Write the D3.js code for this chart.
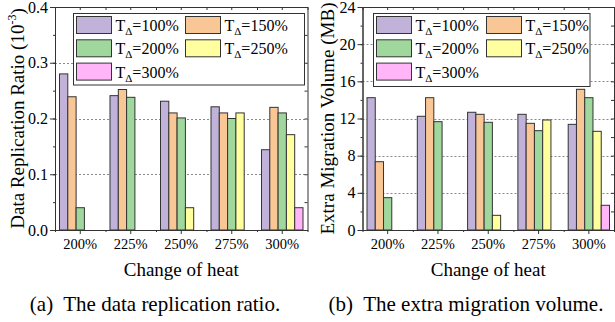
<!DOCTYPE html>
<html>
<head>
<meta charset="utf-8">
<script src="https://cdn.jsdelivr.net/npm/d3@7"></script>
<style>
    html, body { margin: 0; padding: 0; background: #fff; }
    svg, svg text { font-family: "Liberation Serif", "Times New Roman", serif; }
</style>
</head>
<body>
<svg id="chart" width="615" height="322"></svg>
<script>
// Categories (change of heat) and legend series (T_delta)
const categories = ['200%', '225%', '250%', '275%', '300%'];
const seriesNames = ['100%', '150%', '200%', '250%', '300%'];
const seriesColours = ['#c0b2d8', '#f9c796', '#9fd79d', '#ffff9f', '#ffb5f8'];

// (a) data replication ratio, 10^-3
const ratioT100 = [0.280, 0.241, 0.231, 0.221, 0.144];
const ratioT150 = [0.239, 0.252, 0.210, 0.210, 0.220];
const ratioT200 = [0.040, 0.238, 0.201, 0.200, 0.210];
const ratioT250 = [0, 0, 0.040, 0.210, 0.171];
const ratioT300 = [0, 0, 0, 0, 0.040];
const ratioTicks = [0, 0.1, 0.2, 0.3, 0.4];

// (b) extra migration volume, MB
const volumeT100 = [14.24, 12.24, 12.67, 12.45, 11.37];
const volumeT150 = [7.35, 14.24, 12.45, 11.48, 15.14];
const volumeT200 = [3.48, 11.66, 11.59, 10.69, 14.24];
const volumeT250 = [0, 0, 1.58, 11.84, 10.62];
const volumeT300 = [0, 0, 0, 0, 2.66];
const volumeTicks = [0, 4, 8, 12, 16, 20, 24];

const axisColour = '#333';
const serif = '"Liberation Serif", "Times New Roman", serif';

const svg = d3.select('#chart');

function addSubscriptLabel(sel, name) {
    sel.append('tspan').text('T');
    sel.append('tspan').attr('font-size', 11).attr('dy', 4).text('\u0394');
    sel.append('tspan').attr('dy', -4).text('=' + name);
}

function drawPanel(opts) {
    const { left, right, top, bottom, values, ticks, fmt, minorStep, yTitle, yTitleX, caption, captionX, legendBox } = opts;
    const g = svg.append('g');

    const x = d3.scaleBand().domain(categories).range([left, right]).padding(0);
    const xInner = d3.scaleBand().domain(seriesNames).range([4.5, x.bandwidth() - 4.5]).padding(0);
    const xEdge = d3.scaleLinear().domain([0, categories.length]).range([left, right]);
    const yMax = ticks[ticks.length - 1];
    const y = d3.scaleLinear().domain([0, yMax]).range([bottom, top]);
    const minorTicks = d3.range(0, yMax + minorStep / 2, minorStep);

    // dotted gridlines
    g.append('g')
        .selectAll('line')
        .data(ticks.slice(1, -1))
        .join('line')
        .attr('x1', left).attr('x2', right)
        .attr('y1', d => Math.round(y(d)) + 0.5).attr('y2', d => Math.round(y(d)) + 0.5)
        .attr('stroke', '#8a8a8a')
        .attr('stroke-width', 1)
        .attr('stroke-dasharray', '2,2');

    // bars
    const rows = categories.map((c, i) => ({ cat: c, vals: values.map((s, j) => ({ name: seriesNames[j], v: s[i], colour: seriesColours[j] })) }));
    g.append('g')
        .selectAll('g')
        .data(rows)
        .join('g')
        .attr('transform', d => `translate(${x(d.cat)},0)`)
        .selectAll('rect')
        .data(d => d.vals.filter(v => v.v > 0))
        .join('rect')
        .attr('x', d => xInner(d.name))
        .attr('width', xInner.bandwidth())
        .attr('y', d => y(d.v))
        .attr('height', d => y(0) - y(d.v))
        .attr('fill', d => d.colour)
        .attr('stroke', axisColour)
        .attr('stroke-width', 1);

    // axes
    const styleAxis = a => {
        a.attr('font-family', null);
        a.select('.domain').attr('stroke', axisColour);
        a.selectAll('.tick line').attr('stroke', axisColour);
        a.selectAll('.tick text').attr('fill', '#000').style('font-family', serif);
    };

    g.append('g')
        .attr('transform', `translate(${left},0)`)
        .call(d3.axisLeft(y).tickValues(minorTicks).tickSize(2).tickFormat('').tickSizeOuter(0))
        .call(styleAxis);
    g.append('g')
        .attr('transform', `translate(${left},0)`)
        .call(d3.axisLeft(y).tickValues(ticks).tickSize(5).tickPadding(2).tickFormat(fmt).tickSizeOuter(0))
        .call(styleAxis)
        .selectAll('.tick text').attr('font-size', 16);

    g.append('g')
        .attr('transform', `translate(${right},0)`)
        .call(d3.axisRight(y).tickValues(minorTicks).tickSize(-3).tickFormat('').tickSizeOuter(0))
        .call(styleAxis);

    g.append('g')
        .attr('transform', `translate(0,${bottom})`)
        .call(d3.axisBottom(xEdge).tickValues(d3.range(categories.length + 1)).tickSize(2).tickFormat('').tickSizeOuter(0))
        .call(styleAxis);
    g.append('g')
        .attr('transform', `translate(0,${bottom})`)
        .call(d3.axisBottom(x).tickSize(4).tickPadding(5).tickSizeOuter(0))
        .call(styleAxis)
        .selectAll('.tick text').attr('font-size', 14.5);

    g.append('g')
        .attr('transform', `translate(0,${top})`)
        .call(d3.axisTop(xEdge).tickValues(d3.range(categories.length + 1)).tickSize(-3).tickFormat('').tickSizeOuter(0))
        .call(styleAxis);
    g.append('g')
        .attr('transform', `translate(0,${top})`)
        .call(d3.axisTop(x).tickSize(-3).tickFormat('').tickSizeOuter(0))
        .call(styleAxis);

    // legend
    const lg = g.append('g').attr('transform', `translate(${legendBox.x},${legendBox.y})`);
    lg.append('rect')
        .attr('width', legendBox.w).attr('height', legendBox.h)
        .attr('fill', '#fff').attr('stroke', axisColour).attr('stroke-width', 1);
    const item = lg.selectAll('g.item')
        .data(seriesNames.map((n, i) => ({ name: n, colour: seriesColours[i], col: i % 2, row: Math.floor(i / 2) })))
        .join('g')
        .attr('class', 'item')
        .attr('transform', d => `translate(${3 + d.col * legendBox.colGap},${3 + d.row * 23.3})`);
    item.append('rect')
        .attr('width', 35).attr('height', 17)
        .attr('fill', d => d.colour).attr('stroke', axisColour).attr('stroke-width', 1);
    item.append('text')
        .attr('x', 39).attr('y', 14.5)
        .attr('font-size', 16)
        .style('font-family', serif)
        .each(function (d) { addSubscriptLabel(d3.select(this), d.name); });

    // titles
    const yt = g.append('text')
        .attr('transform', `translate(${yTitleX},${(top + bottom) / 2}) rotate(-90)`)
        .attr('text-anchor', 'middle')
        .attr('font-size', 19)
        .style('font-family', serif);
    yt.append('tspan').text(yTitle.main);
    if (yTitle.sup) {
        yt.append('tspan').attr('font-size', 12).attr('dy', -8).text(yTitle.sup);
        yt.append('tspan').attr('dy', 8).text(')');
    }

    g.append('text')
        .attr('x', (left + right) / 2).attr('y', 276)
        .attr('text-anchor', 'middle').attr('font-size', 19)
        .style('font-family', serif)
        .text('Change of heat');

    g.append('text')
        .attr('x', captionX).attr('y', 311)
        .attr('text-anchor', 'middle').attr('font-size', 21)
        .attr('xml:space', 'preserve')
        .style('font-family', serif)
        .text(caption);
}

drawPanel({
    left: 55, right: 307.5, top: 7, bottom: 230,
    values: [ratioT100, ratioT150, ratioT200, ratioT250, ratioT300],
    ticks: ratioTicks, fmt: d3.format('.1f'), minorStep: 0.05,
    yTitle: { main: 'Data Replication Ratio (10', sup: '-3' }, yTitleX: 24,
    caption: '(a)  The data replication ratio.', captionX: 155,
    legendBox: { x: 73.5, y: 13.5, w: 231, h: 71.5, colGap: 109 }
});

drawPanel({
    left: 362.5, right: 614, top: 7, bottom: 230,
    values: [volumeT100, volumeT150, volumeT200, volumeT250, volumeT300],
    ticks: volumeTicks, fmt: d3.format('d'), minorStep: 2,
    yTitle: { main: 'Extra Migration Volume (MB)' }, yTitleX: 334,
    caption: '(b)  The extra migration volume.', captionX: 466,
    legendBox: { x: 373.5, y: 13.5, w: 216.5, h: 73, colGap: 110 }
});
</script>
</body>
</html>
